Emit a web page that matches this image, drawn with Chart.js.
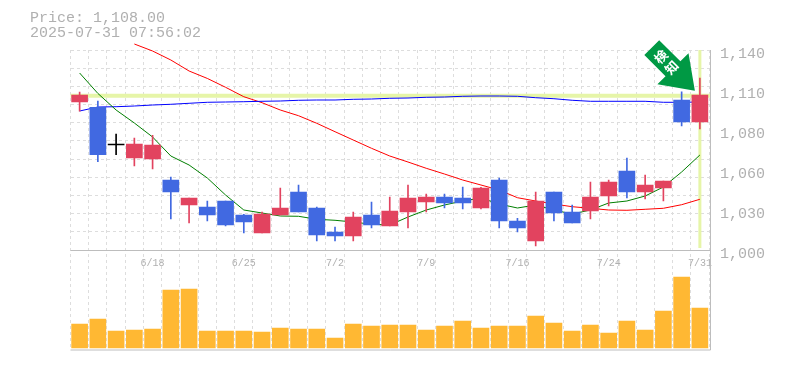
<!DOCTYPE html>
<html>
<head>
<meta charset="utf-8">
<title>Price chart</title>
<style>
  html, body { margin: 0; padding: 0; background: #fff; }
</style>
<script src="https://cdn.jsdelivr.net/npm/chart.js@4"></script>
</head>
<body>
<canvas id="chart" width="785" height="370"></canvas>
<script>
var titleLines = ["Price: 1,108.00", "2025-07-31 07:56:02"];
var signalText = "検知";

var dates = ["6/12","6/13","6/16","6/17","6/18","6/19","6/20","6/23","6/24","6/25","6/26","6/27","6/30","7/1","7/2","7/3","7/4","7/7","7/8","7/9","7/10","7/11","7/14","7/15","7/16","7/17","7/18","7/22","7/23","7/24","7/25","7/28","7/29","7/30","7/31"];

var opens = [1103.6,1099.9,1073.5,1064.4,1063.7,1049,1031.5,1030.1,1034.3,1024.5,1011.9,1024.5,1040.6,1029.4,1012.6,1009.8,1024.5,1016.8,1026.6,1033.6,1037.1,1036.4,1029.4,1049,1020.3,1006.3,1040.6,1026.6,1027.3,1037.8,1055.3,1040.6,1043.4,1105,1089.6];
var highs = [1110.6,1104.3,1081.2,1078.4,1080.3,1051.1,1036.4,1034.3,1034.3,1025,1026.6,1043.4,1045.5,1030.1,1016.1,1026.6,1033.6,1037.1,1045.5,1039.2,1039.2,1044.1,1043.8,1050.4,1022.2,1040.6,1040.6,1031.5,1047.6,1049,1064.4,1052.5,1048.3,1110.8,1120.4];
var lows = [1097.1,1061.8,1066.7,1058.8,1056.7,1021.7,1018.9,1020.3,1016.8,1011.9,1011.9,1024.5,1026.6,1006.3,1006.3,1006.3,1015.4,1016.8,1015.4,1026.6,1029.4,1028.7,1028.7,1015.4,1012.6,1002.8,1020.3,1018.9,1021.7,1030.8,1036.4,1035.7,1034.3,1086.8,1084.7];
var closes = [1108.5,1066.7,1073.5,1074.2,1073.5,1040.6,1036.4,1024.5,1017.5,1019.6,1025.2,1029.4,1026.6,1010.5,1009.8,1023.1,1017.5,1027.3,1036.4,1037.1,1032.9,1032.9,1043.4,1020.3,1015.4,1034.3,1025.9,1018.9,1037.1,1047.6,1040.6,1045.5,1048.3,1089.6,1108.5];

var volumes = [2400,2900,1700,1800,1900,5800,5900,1700,1700,1700,1600,2000,1900,1900,1000,2400,2200,2300,2300,1800,2200,2700,2000,2200,2200,3200,2500,1700,2300,1500,2700,1800,3700,7100,4000];

var maShort = [1123.9,1109.6,1098,1088.9,1079.1,1065.8,1059.5,1050.4,1038.5,1028,1025.9,1023.8,1023.6,1021.5,1020.8,1019.6,1018,1017.5,1023.1,1028,1031.5,1034.3,1036.4,1032.2,1029.4,1031.5,1028,1025.2,1028,1032.9,1034.3,1037.8,1044.1,1054.6,1066.5];
var maMid = [1097.3,1100.1,1100.3,1100.8,1101.5,1102,1102.7,1103.4,1103.6,1103.8,1104.1,1104.3,1104.8,1105,1105,1105.5,1105.7,1106.2,1106.4,1106.9,1107.1,1107.6,1107.8,1107.8,1107.6,1106.6,1105.9,1104.8,1104.1,1104.1,1104.1,1104.1,1103.4,1103.4,1103.6];
var maLong = [null,null,null,1144.2,1139.3,1133,1125.3,1120.1,1113.9,1107.3,1103.1,1098,1094,1088.7,1082.8,1077,1071.2,1065.8,1061.6,1057.2,1053.2,1049,1045.5,1042,1036.6,1034.3,1032.2,1030.3,1029.2,1028,1027.8,1028.5,1029.2,1031.7,1035.5];

var lastPrice = 1108;
var priceTicks = [1000,1028,1056,1084,1112,1140];
var priceMin = 930, priceMax = 1140, gridDivs = 11;

var upColor = "#e2435f", downColor = "#4169e1", flatColor = "#000000";
var gridColor = "#dddddd", frameColor = "#bdbdbd", textColor = "#b0b0b0";

function candleColor(i) {
  if (closes[i] > opens[i]) return upColor;
  if (closes[i] < opens[i]) return downColor;
  return flatColor;
}

var wicks = [], bodies = [], colors = [];
for (var i = 0; i < dates.length; i++) {
  wicks.push([lows[i], highs[i]]);
  bodies.push([opens[i], closes[i]]);
  colors.push(candleColor(i));
}

// yellow last price lines, under the candles
var priceLines = {
  id: "priceLines",
  beforeDatasetsDraw: function(chart) {
    var c = chart.ctx, a = chart.chartArea;
    var y = chart.scales.y.getPixelForValue(lastPrice);
    var x = chart.scales.x.getPixelForValue(dates.length - 1);
    c.save();
    c.strokeStyle = "#e6f5a8";
    c.lineWidth = 4;
    c.beginPath();
    c.moveTo(a.left, y);
    c.lineTo(a.right + 1, y);
    c.stroke();
    c.lineWidth = 3;
    c.beginPath();
    c.moveTo(x, a.top);
    c.lineTo(x, chart.scales.y.getPixelForValue(priceTicks[0]) - 2);
    c.stroke();
    c.restore();
  }
};

// title, panel frame and the arrow on the last candle
var overlay = {
  id: "overlay",
  afterDraw: function(chart) {
    var c = chart.ctx, a = chart.chartArea;
    var sep = Math.round(chart.scales.y.getPixelForValue(priceTicks[0])) + 0.5;
    var right = Math.round(a.right) + 1.5;
    c.save();
    c.strokeStyle = frameColor;
    c.lineWidth = 1;
    c.beginPath();
    c.moveTo(a.left, sep);
    c.lineTo(right, sep);
    c.moveTo(a.left, a.bottom);
    c.lineTo(right, a.bottom);
    c.moveTo(right, a.top);
    c.lineTo(right, a.bottom);
    c.stroke();

    c.fillStyle = textColor;
    c.font = "15px 'Liberation Mono'";
    c.textBaseline = "middle";
    c.fillText(titleLines[0], 30, 18);
    c.fillText(titleLines[1], 30, 33);

    // tip sits just left of the last candle, on its high
    var tipX = chart.scales.x.getPixelForValue(dates.length - 1) - 5;
    var tipY = chart.scales.y.getPixelForValue(lastPrice) - 5;
    c.translate(tipX, tipY);
    c.rotate(-Math.PI / 4);
    c.fillStyle = "#009944";
    c.beginPath();
    c.moveTo(0, 0);
    c.lineTo(-22, -31);
    c.lineTo(-10.5, -31);
    c.lineTo(-10.5, -61);
    c.lineTo(10.5, -61);
    c.lineTo(10.5, -31);
    c.lineTo(22, -31);
    c.closePath();
    c.fill();
    c.fillStyle = "#ffffff";
    c.font = "bold 13px 'Noto Sans CJK JP'";
    c.textAlign = "center";
    c.textBaseline = "middle";
    c.fillText(signalText[0], 0, -48);
    c.fillText(signalText[1], 0, -33);
    c.restore();
  }
};

var ctx = document.getElementById("chart");
var priceChart = new Chart(ctx, {
  type: "bar",
  data: {
    labels: dates,
    datasets: [
      { data: bodies, backgroundColor: colors, barThickness: 16, minBarLength: 1, grouped: false, yAxisID: "y", order: 1 },
      { data: wicks, backgroundColor: colors, barThickness: 1, grouped: false, yAxisID: "y", order: 2 },
      { type: "line", data: maShort, borderColor: "#007f00", borderWidth: 1, pointRadius: 0, yAxisID: "y", clip: false, order: 3 },
      { type: "line", data: maMid, borderColor: "#0000ff", borderWidth: 1, pointRadius: 0, yAxisID: "y", clip: false, order: 3 },
      { type: "line", data: maLong, borderColor: "#ff0000", borderWidth: 1, pointRadius: 0, yAxisID: "y", clip: false, order: 3 },
      { data: volumes, backgroundColor: "#ffb833", barThickness: 16, grouped: false, yAxisID: "yVol", order: 4 }
    ]
  },
  options: {
    responsive: false,
    animation: false,
    layout: { padding: { left: 70.5, top: 50, bottom: 20, right: 0 } },
    plugins: { legend: { display: false }, tooltip: { enabled: false } },
    scales: {
      x: {
        position: { y: priceTicks[0] },
        offset: true,
        grid: { color: gridColor, offset: true, drawTicks: false },
        border: { display: false, dash: [3, 3] },
        ticks: {
          autoSkip: false,
          maxRotation: 0,
          padding: 7,
          color: textColor,
          font: { family: "'Liberation Mono'", size: 10 },
          callback: function(v, i) { return i % 5 === 4 ? dates[i] : ""; }
        }
      },
      y: {
        position: "left",
        min: priceMin,
        max: priceMax,
        afterFit: function(s) { s.width = 0; },
        afterBuildTicks: function(s) {
          var t = [];
          for (var k = 0; k <= gridDivs; k++) t.push({ value: priceTicks[0] + k * (priceMax - priceTicks[0]) / gridDivs });
          s.ticks = t;
        },
        grid: { color: gridColor, drawTicks: false },
        border: { display: false, dash: [3, 3] },
        ticks: { display: false }
      },
      // labels sit 3px under their value in the reference
      yLabels: {
        position: "right",
        min: priceMin + 2.8,
        max: priceMax + 2.8,
        afterFit: function(s) { s.width = 76; },
        afterBuildTicks: function(s) {
          s.ticks = priceTicks.map(function(v) { return { value: v }; });
        },
        grid: { display: false, drawTicks: false },
        border: { display: false },
        ticks: {
          padding: 11,
          color: textColor,
          font: { family: "'Liberation Mono'", size: 15 },
          callback: function(v) { return (Math.round(v / 10) * 10).toLocaleString("en-US"); }
        }
      },
      yVol: {
        display: false,
        min: -200,
        max: 29800
      }
    }
  },
  plugins: [priceLines, overlay]
});
</script>
</body>
</html>
